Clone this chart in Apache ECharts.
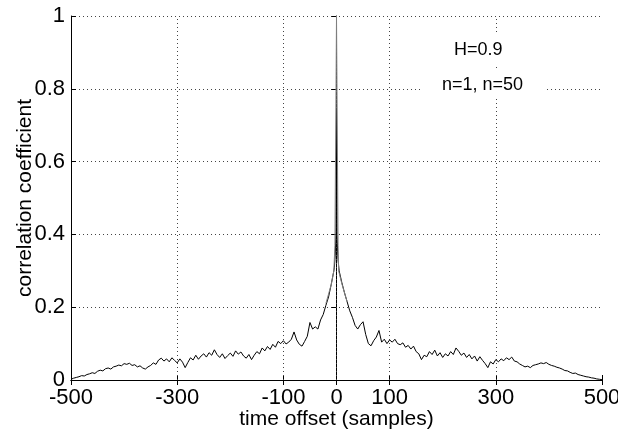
<!DOCTYPE html>
<html><head><meta charset="utf-8">
<script src="https://cdn.jsdelivr.net/npm/echarts@6/dist/echarts.min.js"></script>
<style>html,body{margin:0;padding:0;background:#fff}#c{width:618px;height:430px}</style>
</head><body><div id="c"></div>
<script>
// x-axis tick labels and y-axis ticks
const xTicks = [-500, -300, -100, 0, 100, 300, 500];
const xGrid = [-300, -100, 0, 100, 300];
// n=1 correlation: lags -500..-5 step 5
const leftStart = -500, step = 5;
const leftCorr = [0.002,0.005,0.007,0.009,0.012,0.011,0.015,0.017,0.020,0.018,
0.024,0.027,0.025,0.031,0.033,0.030,0.036,0.038,0.041,0.039,
0.045,0.043,0.046,0.040,0.042,0.036,0.039,0.033,0.030,0.036,
0.040,0.047,0.043,0.055,0.060,0.052,0.058,0.050,0.061,0.054,
0.047,0.058,0.049,0.034,0.048,0.061,0.055,0.068,0.057,0.066,
0.072,0.063,0.075,0.068,0.083,0.070,0.062,0.072,0.059,0.067,
0.074,0.065,0.080,0.071,0.077,0.066,0.060,0.070,0.056,0.068,
0.078,0.072,0.088,0.080,0.092,0.084,0.098,0.090,0.106,0.100,
0.108,0.099,0.104,0.112,0.132,0.110,0.098,0.093,0.106,0.120,
0.158,0.140,0.146,0.140,0.165,0.180,0.205,0.228,0.262,0.300];
// fine resolution around zero lag
const centerLags = [-4,-3,-2,-1,0,1,2,3,4];
const centerCorr = [0.31,0.33,0.36,0.40,0.74,0.40,0.36,0.33,0.315];
// lags 5..500 step 5
const rightStart = 5;
const rightCorr = [0.300,0.268,0.240,0.215,0.190,0.172,0.150,0.140,0.152,0.160,
0.125,0.100,0.094,0.108,0.118,0.136,0.104,0.112,0.100,0.110,
0.104,0.112,0.100,0.097,0.102,0.090,0.095,0.085,0.093,0.078,
0.072,0.056,0.068,0.064,0.078,0.070,0.082,0.066,0.075,0.062,
0.072,0.066,0.078,0.070,0.088,0.079,0.068,0.074,0.062,0.070,
0.058,0.066,0.052,0.064,0.054,0.045,0.034,0.050,0.044,0.056,
0.050,0.058,0.053,0.061,0.056,0.063,0.052,0.050,0.044,0.040,
0.036,0.038,0.034,0.040,0.042,0.044,0.047,0.045,0.048,0.043,
0.040,0.038,0.035,0.033,0.030,0.026,0.025,0.021,0.018,0.019,
0.015,0.013,0.011,0.009,0.008,0.006,0.005,0.003,0.002,0.001];
// n=50 correlation near zero lag
const grayLags = [-20,-10,-5,-4,-3,0,3,4,5,10,20];
const grayCorr = [0.21,0.262,0.30,0.30,0.37,1.0,0.37,0.30,0.30,0.265,0.215];

const black = [];
leftCorr.forEach((v,i)=>black.push([leftStart+step*i, v]));
centerLags.forEach((l,i)=>black.push([l, centerCorr[i]]));
rightCorr.forEach((v,i)=>black.push([rightStart+step*i, v]));
const gray = grayLags.map((l,i)=>[l, grayCorr[i]]);

const FONT = 'Liberation Sans';
const dot = [1,3];
const chart = echarts.init(document.getElementById('c'), null, {renderer:'canvas'});
chart.setOption({
  animation:false,
  backgroundColor:'#fff',
  textStyle:{fontFamily:FONT},
  grid:{left:71, right:16, top:16, bottom:50, containLabel:false, outerBoundsMode:'none'},
  xAxis:[{
    type:'value', min:-500, max:500,
    axisLine:{show:true,onZero:false,lineStyle:{color:'#000',width:1}},
    axisTick:{show:true,inside:true,length:5,customValues:xTicks,lineStyle:{color:'#000'}},
    axisLabel:{customValues:xTicks,color:'#000',fontSize:22,margin:7,fontFamily:FONT,showMinLabel:true,showMaxLabel:true},
    splitLine:{show:false},
    name:'time offset (samples)', nameLocation:'middle', nameGap:29, nameMoveOverlap:false,
    nameTextStyle:{color:'#000',fontSize:21,fontFamily:FONT}
  },{
    type:'value', min:-500, max:500, position:'top',
    axisLine:{show:true,lineStyle:{color:'#000',width:1}},
    axisTick:{show:true,inside:true,length:5,customValues:xTicks,lineStyle:{color:'#000'}},
    axisLabel:{show:false}, splitLine:{show:false}
  }],
  yAxis:[{
    type:'value', min:0, max:1, interval:0.2,
    axisLine:{show:true,onZero:false,lineStyle:{color:'#000',width:1}},
    axisTick:{show:true,inside:true,length:5,lineStyle:{color:'#000'}},
    axisLabel:{color:'#000',fontSize:22,margin:6,fontFamily:FONT,
      formatter:v=>(v===0?'0':(v===1?'1':String(+v.toFixed(1))))},
    splitLine:{show:true,lineStyle:{color:'#444',width:1,type:dot}},
    name:'correlation coefficient', nameLocation:'middle', nameGap:35, nameMoveOverlap:false,
    nameTextStyle:{color:'#000',fontSize:21,fontFamily:FONT}
  },{
    type:'value', min:0, max:1, interval:0.2, position:'right',
    axisLine:{show:true,lineStyle:{color:'#000',width:1}},
    axisTick:{show:true,inside:true,length:5,lineStyle:{color:'#000'}},
    axisLabel:{show:false}, splitLine:{show:false}
  }],
  series:[{
    type:'line', data:black, showSymbol:false, symbol:'none',
    lineStyle:{color:'#000',width:1}, z:3,
    markLine:{silent:true,symbol:['none','none'],label:{show:false},
      lineStyle:{color:'#444',width:1,type:dot},
      data:xGrid.map(v=>({xAxis:v})), z:1}
  },{
    type:'line', data:gray, showSymbol:false, symbol:'none',
    lineStyle:{color:'#808080',width:1}, z:4
  }],
  graphic:[
    {type:'text', style:{text:'H=0.9',font:'18px "Liberation Sans"',fill:'#000',
      backgroundColor:'#fff',padding:[7,12]}, left:442, top:34, z:100},
    {type:'text', style:{text:'n=1, n=50',font:'18px "Liberation Sans"',fill:'#000',
      backgroundColor:'#fff',padding:[5,21]}, left:421, top:71, z:100}
  ]
});
</script></body></html>
